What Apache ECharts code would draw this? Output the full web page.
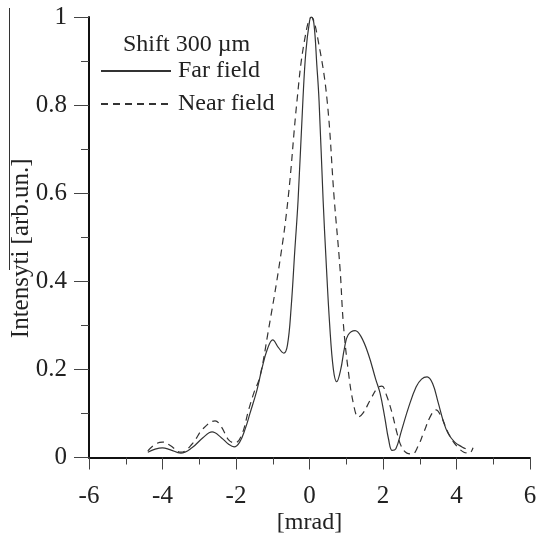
<!DOCTYPE html>
<html>
<head>
<meta charset="utf-8">
<script src="https://cdn.jsdelivr.net/npm/echarts@6/dist/echarts.min.js"></script>
<style>html,body{margin:0;padding:0;background:#fff}#c{width:536px;height:536px}</style>
</head>
<body>
<div id="c"></div>
<script>
// Far field (solid)
const farX = [-4.4,-4.2,-4.0,-3.8,-3.5,-3.2,-2.9,-2.65,-2.4,-2.2,-2.05,-1.9,-1.75,-1.62,-1.43,-1.3,-1.15,-1.0,-0.85,-0.7,-0.6,-0.5,-0.4,-0.31,-0.18,-0.1,0.0,0.05,0.12,0.2,0.26,0.37,0.45,0.55,0.65,0.74,0.85,0.95,1.05,1.24,1.4,1.6,1.8,1.92,2.05,2.15,2.25,2.35,2.5,2.7,2.9,3.05,3.2,3.35,3.5,3.65,3.77,3.95,4.15,4.25];
const farY = [0.012,0.019,0.022,0.018,0.010,0.022,0.045,0.058,0.045,0.030,0.024,0.035,0.065,0.100,0.153,0.200,0.245,0.267,0.250,0.237,0.255,0.340,0.470,0.585,0.810,0.920,0.990,1.000,0.985,0.890,0.810,0.585,0.449,0.300,0.200,0.172,0.200,0.248,0.278,0.288,0.275,0.235,0.178,0.146,0.090,0.042,0.016,0.020,0.060,0.115,0.160,0.178,0.183,0.168,0.125,0.080,0.055,0.035,0.024,0.020];
// Near field (dashed)
const nearX = [-4.4,-4.2,-4.0,-3.8,-3.5,-3.2,-2.9,-2.57,-2.4,-2.2,-2.03,-1.85,-1.65,-1.5,-1.35,-1.13,-0.8,-0.58,-0.34,-0.15,0.05,0.25,0.48,0.67,0.83,0.92,1.05,1.2,1.33,1.45,1.65,1.85,1.97,2.1,2.25,2.38,2.5,2.65,2.8,2.95,3.1,3.3,3.44,3.6,3.75,3.88,4.05,4.2,4.35,4.45];
const nearY = [0.015,0.030,0.035,0.028,0.012,0.030,0.065,0.083,0.070,0.040,0.033,0.050,0.110,0.150,0.183,0.283,0.449,0.590,0.810,0.940,1.000,0.940,0.810,0.590,0.430,0.305,0.200,0.120,0.092,0.100,0.130,0.158,0.162,0.140,0.100,0.056,0.025,0.010,0.008,0.025,0.055,0.095,0.108,0.090,0.060,0.040,0.022,0.012,0.010,0.022];
const xTicks = [-6,-4,-2,0,2,4,6];
const yTicks = [0,0.2,0.4,0.6,0.8,1];
const seriesNames = ['Far field','Near field'];
const legendTitle = 'Shift 300 µm';
const xName = '[mrad]';
const yName = 'Intensyti [arb.un.]';

const font = '"Liberation Serif", "Times New Roman", serif';
const zip = (xs, ys) => xs.map((x, i) => [x, ys[i]]);

const chart = echarts.init(document.getElementById('c'), null, {renderer: 'canvas'});
chart.setOption({
  animation: false,
  backgroundColor: '#fff',
  textStyle: {fontFamily: font},
  grid: {left: 89, right: 6, top: 17, bottom: 78.5, containLabel: false, outerBoundsMode: 'none'},
  title: {
    text: legendTitle, left: 118, top: 28,
    textStyle: {fontFamily: font, fontSize: 24, fontWeight: 'normal', color: '#222'}
  },
  legend: {
    orient: 'vertical', left: 95, top: 54, itemGap: 9,
    itemWidth: 70, itemHeight: 24,
    data: seriesNames,
    itemStyle: {opacity: 0},
    textStyle: {fontFamily: font, fontSize: 24, color: '#222', padding: [0, 0, 0, 2]}
  },
  xAxis: {
    type: 'value', min: -6, max: 6, interval: 2,
    name: xName, nameLocation: 'middle', nameGap: 53, nameMoveOverlap: false,
    nameTextStyle: {fontFamily: font, fontSize: 24, color: '#222'},
    axisLine: {onZero: false, lineStyle: {color: '#111', width: 2}},
    axisTick: {show: true, length: 12, lineStyle: {color: '#444', width: 1}},
    minorTick: {show: true, splitNumber: 2, length: 7, lineStyle: {color: '#444', width: 1}},
    axisLabel: {fontFamily: font, fontSize: 25, color: '#222', margin: 26,
      formatter: v => xTicks.includes(v) ? String(v) : ''},
    splitLine: {show: false}
  },
  yAxis: {
    type: 'value', min: 0, max: 1, interval: 0.2,
    name: yName, nameLocation: 'middle', nameRotate: 90, nameGap: 55, nameMoveOverlap: false,
    nameTextStyle: {fontFamily: font, fontSize: 25, color: '#222', padding: [0, 22, 0, 0]},
    axisLine: {show: true, onZero: false, lineStyle: {color: '#111', width: 2}},
    axisTick: {show: true, length: 15, lineStyle: {color: '#444', width: 1}},
    minorTick: {show: true, splitNumber: 2, length: 8, lineStyle: {color: '#444', width: 1}},
    axisLabel: {fontFamily: font, fontSize: 25, color: '#222', margin: 22,
      formatter: v => { const t = yTicks.find(t => Math.abs(t - v) < 1e-9); return t === undefined ? '' : String(t); }},
    splitLine: {show: false}
  },
  series: [
    {name: seriesNames[0], type: 'line', data: zip(farX, farY), smooth: 0.4, showSymbol: false, symbol: 'none',
      lineStyle: {color: '#333', width: 1.2, type: 'solid'}, itemStyle: {color: '#333'}},
    {name: seriesNames[1], type: 'line', data: zip(nearX, nearY), smooth: 0.4, showSymbol: false, symbol: 'none',
      lineStyle: {color: '#333', width: 1.2, type: [7, 5]}, itemStyle: {color: '#333'}}
  ],
  graphic: [
    {type: 'line', shape: {x1: 9.5, y1: 8, x2: 9.5, y2: 270}, style: {stroke: '#333', lineWidth: 1}}
  ]
});
</script>
</body>
</html>
